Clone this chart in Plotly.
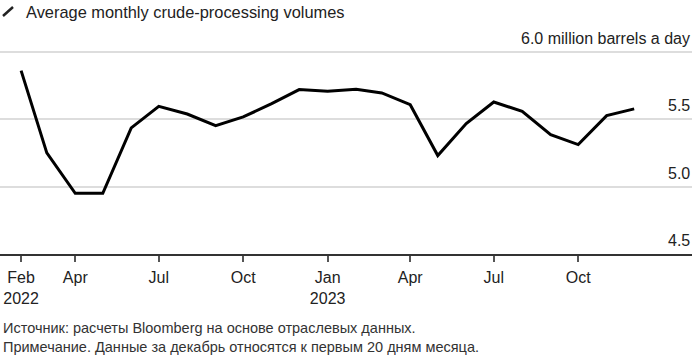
import plotly.graph_objects as go

months = ["2022-02-01", "2022-03-01", "2022-04-01", "2022-05-01", "2022-06-01", "2022-07-01",
          "2022-08-01", "2022-09-01", "2022-10-01", "2022-11-01", "2022-12-01", "2023-01-01",
          "2023-02-01", "2023-03-01", "2023-04-01", "2023-05-01", "2023-06-01", "2023-07-01",
          "2023-08-01", "2023-09-01", "2023-10-01", "2023-11-01", "2023-12-01"]
volumes = [5.86, 5.25, 4.95, 4.95, 5.435, 5.595, 5.538, 5.452, 5.516, 5.615, 5.719, 5.706,
           5.722, 5.694, 5.607, 5.23, 5.467, 5.627, 5.558, 5.385, 5.311, 5.526, 5.576]

x_tickvals = ["2022-02-01", "2022-04-01", "2022-07-01", "2022-10-01", "2023-01-01",
              "2023-04-01", "2023-07-01", "2023-10-01"]
x_ticktext = ["Feb<br>2022", "Apr", "Jul", "Oct", "Jan<br>2023", "Apr", "Jul", "Oct"]
y_tickvals = [4.5, 5.0, 5.5, 6.0]
y_ticktext = ["4.5", "5.0", "5.5", "6.0 million barrels a day"]

title_text = "Average monthly crude-processing volumes"
footer_text = ("Источник: расчеты Bloomberg на основе отраслевых данных.<br>"
               "Примечание. Данные за декабрь относятся к первым 20 дням месяца.")

FONT = "Liberation Sans, Arial, sans-serif"
TOP, BOTTOM = 49, 108
PH = 362 - TOP - BOTTOM
PW = 692

fig = go.Figure()
fig.add_trace(go.Scatter(x=months, y=volumes, mode="lines",
                         line=dict(color="#000000", width=3), hoverinfo="skip"))

fig.update_layout(
    width=699, height=362,
    margin=dict(l=0, r=699 - PW, t=TOP, b=BOTTOM, autoexpand=False),
    paper_bgcolor="white", plot_bgcolor="white",
    showlegend=False,
    font=dict(family=FONT, size=16, color="#222222"),
    xaxis=dict(
        type="date", automargin=False,
        range=["2022-01-09", "2024-02-02"],
        tickvals=x_tickvals, ticktext=x_ticktext,
        showgrid=False, zeroline=False,
        showline=True, linecolor="#333333", linewidth=1.5,
        ticks="outside", ticklen=6, tickcolor="#555555", tickwidth=1.5,
        ticklabelstandoff=2,
        tickfont=dict(family=FONT, size=16, color="#222222"),
    ),
    yaxis=dict(
        range=[4.5, 6.02], automargin=False,
        side="right",
        tickvals=y_tickvals, showticklabels=False,
        showgrid=True, gridcolor="#dddddd", gridwidth=1.5,
        zeroline=False, showline=False, ticks="",
    ),
)

for v, t in zip(y_tickvals, y_ticktext):
    fig.add_annotation(text=t, xref="paper", yref="y", x=1, y=v,
                       xanchor="right", yanchor="bottom", yshift=3, showarrow=False,
                       font=dict(family=FONT, size=16, color="#222222"))

fig.add_shape(type="line", xref="paper", yref="paper",
              x0=3 / PW, x1=13 / PW, y0=1 + (TOP - 16) / PH, y1=1 + (TOP - 7) / PH,
              line=dict(color="#222222", width=2.5))

fig.add_annotation(text=title_text, xref="paper", yref="paper",
                   x=24 / PW, y=1 + (TOP - 12) / PH, xanchor="left", yanchor="middle",
                   showarrow=False, font=dict(family=FONT, size=16.4, color="#222222"))

fig.add_annotation(text=footer_text, xref="paper", yref="paper",
                   x=1 / PW, y=-(318 - (362 - BOTTOM)) / PH, xanchor="left", yanchor="top",
                   align="left", showarrow=False,
                   font=dict(family=FONT, size=14.5, color="#333333"))

fig.write_html("out.html", config={"displayModeBar": False},
               post_script="document.body.style.margin='0';document.body.style.overflow='hidden';")
